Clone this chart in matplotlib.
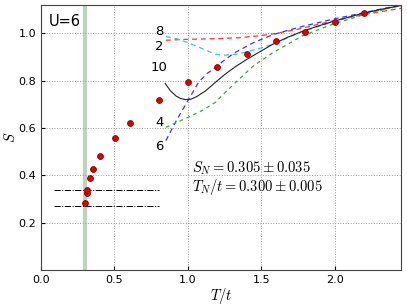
import numpy as np
import matplotlib
matplotlib.use('Agg')
import matplotlib.pyplot as plt

plt.rcParams['mathtext.fontset'] = 'cm'

# QMC points
t_pts = [0.302, 0.311, 0.315, 0.333, 0.356, 0.405, 0.505, 0.603, 0.80, 1.0,
         1.2, 1.4, 1.6, 1.8, 2.0, 2.2]
s_pts = [0.285, 0.326, 0.337, 0.389, 0.427, 0.481, 0.557, 0.623, 0.717, 0.795,
         0.859, 0.915, 0.966, 1.008, 1.05, 1.085]

# curves
t_10 = [0.845, 0.88, 0.92, 0.95, 0.984, 1.02, 1.06, 1.12, 1.187, 1.25, 1.32,
        1.40, 1.48, 1.58, 1.68, 1.78, 1.88, 1.986, 2.09, 2.19, 2.30, 2.45]
s_10 = [0.789, 0.758, 0.735, 0.725, 0.720, 0.722, 0.733, 0.757, 0.793, 0.826,
        0.858, 0.890, 0.919, 0.955, 0.984, 1.009, 1.030, 1.050, 1.068, 1.085,
        1.100, 1.118]

t_6 = [0.85, 0.92, 1.0, 1.074, 1.13, 1.187, 1.25, 1.32, 1.446, 1.58, 1.75,
       1.986, 2.2, 2.45]
s_6 = [0.547, 0.63, 0.716, 0.795, 0.830, 0.856, 0.888, 0.919, 0.961, 0.995,
       1.025, 1.06, 1.088, 1.12]

t_4 = [0.85, 1.0, 1.1, 1.187, 1.25, 1.32, 1.446, 1.58, 1.78, 1.986, 2.2, 2.45]
s_4 = [0.603, 0.645, 0.675, 0.709, 0.748, 0.79, 0.863, 0.919, 0.99, 1.039,
       1.08, 1.12]

t_2 = [0.85, 0.92, 1.0, 1.1, 1.187, 1.255, 1.33, 1.40, 1.48, 1.58, 1.78,
       1.986, 2.19, 2.45]
s_2 = [0.987, 0.978, 0.961, 0.935, 0.912, 0.908, 0.912, 0.922, 0.935, 0.955,
       1.008, 1.048, 1.083, 1.116]

t_8 = [0.85, 1.0, 1.2, 1.35, 1.49, 1.6, 1.75, 1.986, 2.2, 2.45]
s_8 = [0.971, 0.975, 0.978, 0.982, 0.99, 1.0, 1.018, 1.053, 1.08, 1.106]

s_band = [0.27, 0.34]
t_neel = 0.302

fig = plt.figure(figsize=(4.07, 3.07), dpi=100)
ax = fig.add_axes([0.1007, 0.1205, 0.8845, 0.8632])

ax.axvline(t_neel, color='#bcd3bc', lw=3, zorder=1)
for s in s_band:
    ax.plot([0.09, 0.80], [s, s], 'k-.', lw=0.7)

ax.plot(t_8, s_8, '--', color='#ff3333', lw=0.9, dashes=(4, 3))
ax.plot(t_2, s_2, '--', color='#33cccc', lw=0.9, dashes=(4, 3))
ax.plot(t_6, s_6, '--', color='#3333ff', lw=0.9, dashes=(4, 3))
ax.plot(t_4, s_4, '--', color='#33aa33', lw=0.9, dashes=(3, 3))
ax.plot(t_10, s_10, '-', color='#222222', lw=0.8)

ax.plot(t_pts, s_pts, 'o', color='#e00000', mec='#800000', mew=0.6, ms=4.2, zorder=5)

for lab, s in [('8', 1.01), ('2', 0.943), ('10', 0.856), ('4', 0.624), ('6', 0.522)]:
    ax.text(0.804, s, lab, ha='center', va='center', fontsize=9.5)

ax.text(0.05, 1.05, 'U=6', fontsize=10.5, va='center', ha='left',
        bbox=dict(fc='white', ec='none', pad=1))
ax.text(1.03, 0.43, r'$S_N=0.305\pm0.035$', fontsize=10.5, va='center')
ax.text(1.03, 0.35, r'$T_N/t=0.300\pm0.005$', fontsize=10.5, va='center')

ax.set_xlim(0, 2.45)
ax.set_ylim(0, 1.12)
ax.set_xticks([0.0, 0.5, 1.0, 1.5, 2.0])
ax.set_yticks([0.2, 0.4, 0.6, 0.8, 1.0])
ax.tick_params(direction='in', labelsize=8, length=3)
ax.grid(True, ls=':', color='#999999', lw=0.7)
for sp in ax.spines.values():
    sp.set_color('#444444')
ax.set_xlabel(r'$T/t$', fontsize=10.5, labelpad=1)
ax.set_ylabel(r'$S$', fontsize=10.5, labelpad=0)

fig.savefig('out.png', dpi=100)
